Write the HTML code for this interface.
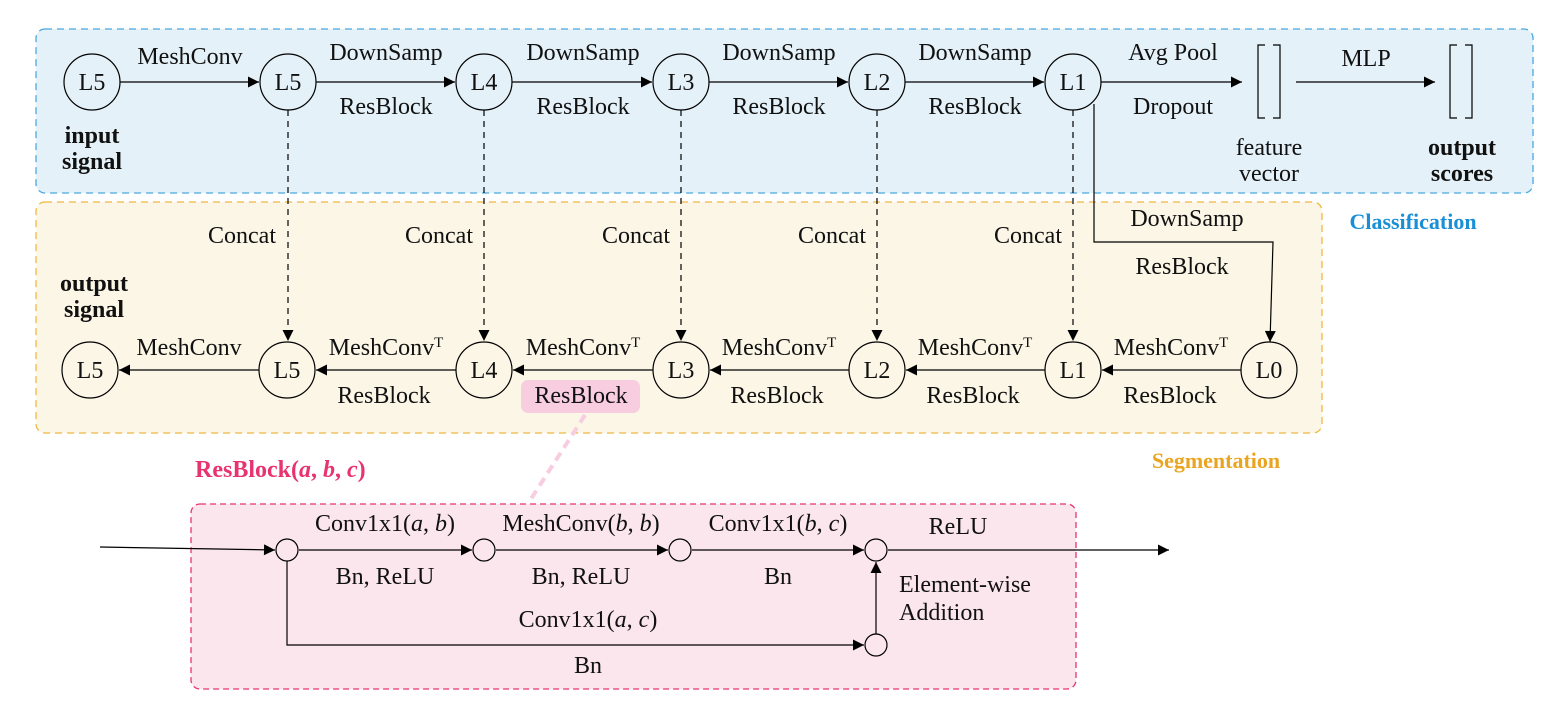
<!DOCTYPE html>
<html><head><meta charset="utf-8"><style>
html,body{margin:0;padding:0;background:#fff;}
svg{display:block;}
text{font-family:"Liberation Serif",serif;font-size:24px;fill:#111;}
.b{font-weight:bold;}
</style></head><body>
<svg width="1544" height="707" viewBox="0 0 1544 707" xmlns="http://www.w3.org/2000/svg">
<defs>
<marker id="a" viewBox="0 0 10 10" refX="10" refY="5" markerWidth="22" markerHeight="11" markerUnits="userSpaceOnUse" orient="auto"><path d="M0,0 L10,5 L0,10 z" fill="#000"/></marker>
</defs>
<rect x="36" y="29" width="1497" height="164" rx="9" fill="#e4f1f8" stroke="#4aa8e0" stroke-width="1.3" stroke-dasharray="7,5"/>
<rect x="36" y="202" width="1286" height="231" rx="9" fill="#fbf6e6" stroke="#f0b840" stroke-width="1.3" stroke-dasharray="7,5"/>
<rect x="191" y="504" width="885" height="185" rx="9" fill="#fbe6ee" stroke="#e8336f" stroke-width="1.3" stroke-dasharray="6,4"/>
<rect x="521" y="380" width="119" height="33" rx="7" fill="#f8cde0"/>
<line x1="585" y1="415" x2="529" y2="502" stroke="#f8cde0" stroke-width="4" stroke-dasharray="9,6"/>

<g stroke="#000" stroke-width="1.2" fill="none">
<line x1="120" y1="82" x2="259" y2="82" marker-end="url(#a)"/>
<line x1="316" y1="82" x2="455" y2="82" marker-end="url(#a)"/>
<line x1="512" y1="82" x2="652" y2="82" marker-end="url(#a)"/>
<line x1="709" y1="82" x2="848" y2="82" marker-end="url(#a)"/>
<line x1="905" y1="82" x2="1044" y2="82" marker-end="url(#a)"/>
<line x1="1101" y1="82" x2="1242" y2="82" marker-end="url(#a)"/>
<line x1="1296" y1="82" x2="1435" y2="82" marker-end="url(#a)"/>
<path d="M1265,45 H1258 V118 H1265 M1273,45 H1280 V118 H1273"/>
<path d="M1457,45 H1450 V118 H1457 M1465,45 H1472 V118 H1465"/>
<path d="M1094,104 V242 H1273 L1270,342" marker-end="url(#a)"/>
<g stroke-dasharray="6,5">
<line x1="288" y1="110" x2="288" y2="341" marker-end="url(#a)"/>
<line x1="484" y1="110" x2="484" y2="341" marker-end="url(#a)"/>
<line x1="681" y1="110" x2="681" y2="341" marker-end="url(#a)"/>
<line x1="877" y1="110" x2="877" y2="341" marker-end="url(#a)"/>
<line x1="1073" y1="110" x2="1073" y2="341" marker-end="url(#a)"/>
</g>
<line x1="1241" y1="370" x2="1102" y2="370" marker-end="url(#a)"/>
<line x1="1045" y1="370" x2="906" y2="370" marker-end="url(#a)"/>
<line x1="849" y1="370" x2="710" y2="370" marker-end="url(#a)"/>
<line x1="653" y1="370" x2="513" y2="370" marker-end="url(#a)"/>
<line x1="456" y1="370" x2="316" y2="370" marker-end="url(#a)"/>
<line x1="259" y1="370" x2="119" y2="370" marker-end="url(#a)"/>
<line x1="100" y1="547" x2="275" y2="550" marker-end="url(#a)"/>
<line x1="299" y1="550" x2="472" y2="550" marker-end="url(#a)"/>
<line x1="496" y1="550" x2="668" y2="550" marker-end="url(#a)"/>
<line x1="692" y1="550" x2="864" y2="550" marker-end="url(#a)"/>
<line x1="888" y1="550" x2="1169" y2="550" marker-end="url(#a)"/>
<path d="M287,561 V645 H864" marker-end="url(#a)"/>
<line x1="876" y1="634" x2="876" y2="562" marker-end="url(#a)"/>
</g>
<g stroke="#000" stroke-width="1.2" fill="none">
<circle cx="92" cy="82" r="28"/><circle cx="288" cy="82" r="28"/><circle cx="484" cy="82" r="28"/>
<circle cx="681" cy="82" r="28"/><circle cx="877" cy="82" r="28"/><circle cx="1073" cy="82" r="28"/>
<circle cx="90" cy="370" r="28"/><circle cx="287" cy="370" r="28"/><circle cx="484" cy="370" r="28"/>
<circle cx="681" cy="370" r="28"/><circle cx="877" cy="370" r="28"/><circle cx="1073" cy="370" r="28"/><circle cx="1269" cy="370" r="28"/>
<circle cx="287" cy="550" r="11"/><circle cx="484" cy="550" r="11"/><circle cx="680" cy="550" r="11"/><circle cx="876" cy="550" r="11"/><circle cx="876" cy="645" r="11"/>
</g>
<g text-anchor="middle">
<text x="92" y="90">L5</text><text x="288" y="90">L5</text><text x="484" y="90">L4</text>
<text x="681" y="90">L3</text><text x="877" y="90">L2</text><text x="1073" y="90">L1</text>
<text x="90" y="378">L5</text><text x="287" y="378">L5</text><text x="484" y="378">L4</text>
<text x="681" y="378">L3</text><text x="877" y="378">L2</text><text x="1073" y="378">L1</text><text x="1269" y="378">L0</text>
<text x="190" y="64">MeshConv</text>
<text x="386" y="60">DownSamp</text><text x="386" y="114">ResBlock</text>
<text x="583" y="60">DownSamp</text><text x="583" y="114">ResBlock</text>
<text x="779" y="60">DownSamp</text><text x="779" y="114">ResBlock</text>
<text x="975" y="60">DownSamp</text><text x="975" y="114">ResBlock</text>
<text x="1173" y="60">Avg Pool</text><text x="1173" y="114">Dropout</text>
<text x="1366" y="66">MLP</text>
<text x="92" y="143" class="b">input</text><text x="92" y="169" class="b">signal</text>
<text x="1269" y="155">feature</text><text x="1269" y="181">vector</text>
<text x="1462" y="155" class="b">output</text><text x="1462" y="181" class="b">scores</text>
<text x="1413" y="229" class="b" style="fill:#1a8fd6;font-size:22px">Classification</text>
<text x="1216" y="468" class="b" style="fill:#eaa520;font-size:22px">Segmentation</text>
<text x="1187" y="226">DownSamp</text><text x="1182" y="274">ResBlock</text>
<text x="94" y="291" class="b">output</text><text x="94" y="317" class="b">signal</text>
<text x="189" y="355">MeshConv</text>
<text x="386" y="355">MeshConv<tspan dy="-8" font-size="15">T</tspan></text>
<text x="583" y="355">MeshConv<tspan dy="-8" font-size="15">T</tspan></text>
<text x="779" y="355">MeshConv<tspan dy="-8" font-size="15">T</tspan></text>
<text x="975" y="355">MeshConv<tspan dy="-8" font-size="15">T</tspan></text>
<text x="1171" y="355">MeshConv<tspan dy="-8" font-size="15">T</tspan></text>
<text x="384" y="403">ResBlock</text><text x="581" y="403">ResBlock</text><text x="777" y="403">ResBlock</text><text x="973" y="403">ResBlock</text><text x="1170" y="403">ResBlock</text>
<text x="385" y="531">Conv1x1(<tspan font-style="italic">a</tspan>, <tspan font-style="italic">b</tspan>)</text>
<text x="581" y="531">MeshConv(<tspan font-style="italic">b</tspan>, <tspan font-style="italic">b</tspan>)</text>
<text x="778" y="531">Conv1x1(<tspan font-style="italic">b</tspan>, <tspan font-style="italic">c</tspan>)</text>
<text x="958" y="534">ReLU</text>
<text x="385" y="584">Bn, ReLU</text><text x="581" y="584">Bn, ReLU</text><text x="778" y="584">Bn</text>
<text x="588" y="627">Conv1x1(<tspan font-style="italic">a</tspan>, <tspan font-style="italic">c</tspan>)</text>
<text x="588" y="673">Bn</text>
<text x="242" y="243">Concat</text><text x="439" y="243">Concat</text><text x="636" y="243">Concat</text><text x="832" y="243">Concat</text><text x="1028" y="243">Concat</text>
</g>
<text x="899" y="592">Element-wise</text><text x="899" y="620">Addition</text>
<text x="195" y="477" class="b" style="fill:#e8336f">ResBlock(<tspan font-style="italic">a</tspan>, <tspan font-style="italic">b</tspan>, <tspan font-style="italic">c</tspan>)</text>
</svg>
</body></html>
